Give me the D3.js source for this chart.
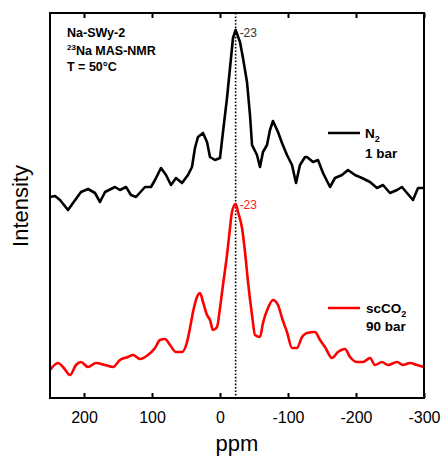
<!DOCTYPE html>
<meta charset="utf-8">
<style>
    body { margin: 0; background: #fff; }
    text { font-family: Arial, "Liberation Sans", sans-serif; }
    .frame { fill: none; stroke: #000; stroke-width: 2; }
    .spec { fill: none; stroke-width: 2.6; stroke-linejoin: round; }
    .axis line { stroke: #000; stroke-width: 2; }
    .axis text { font-size: 16px; fill: #000; }
</style>
<svg width="442" height="460"></svg>
<script src="https://d3js.org/d3.v7.min.js"></script>
<script>

    // chemical shift (ppm) and intensity (arb. units)
    var n2Ppm = [250, 242.6, 235.3, 223.5, 216.2, 204.4, 194.1, 183.8, 176.5, 169.1, 154.4, 147.1, 138.2, 130.9, 123.5,
        110.3, 101.5, 95.6, 86.8, 79.4, 72.1, 64.7, 55.9, 47.1, 41.2, 36.8, 32.4, 25, 19.1, 14.7, 7.4, 0, -4.4, -10.3,
        -14.7, -19.1, -23, -29.4, -33.8, -39.7, -44.1, -47.1, -54.4, -58.8, -63.2, -69.1, -73.5, -77.9, -85.3, -91.2,
        -98.5, -105.9, -111.8, -117.6, -125, -127.9, -136.8, -144.1, -151.5, -161.8, -169.1, -179.4, -188.2, -198.5,
        -208.8, -220.6, -230.9, -239.7, -250, -260.3, -267.6, -275, -283.8, -291.2, -300];
    var n2Int = [201, 202, 198, 188, 195, 206, 209, 205, 196, 206, 211, 208, 211, 203, 201,
        211, 211, 218, 230, 223, 213, 220, 215, 223, 231, 250, 261, 265, 256, 241, 238, 240, 266, 300,
        330, 360, 368, 356, 340, 316, 283, 253, 243, 231, 246, 253, 268, 277, 266, 255,
        243, 233, 215, 233, 241, 241, 236, 238, 225, 211, 220, 223, 228, 223,
        220, 216, 210, 213, 205, 208, 211, 205, 198, 210, 210];

    var co2Ppm = [250, 238.2, 230.9, 220.6, 211.8, 204.4, 194.1, 182.4, 169.1, 157.4, 147.1, 135.3, 127.9, 117.6, 105.9,
        95.6, 88.2, 80.9, 73.5, 64.7, 55.9, 48.5, 44.1, 39.7, 33.8, 29.4, 25, 19.1, 14.7, 10.3, 4.4, 0, -4.4, -10.3,
        -14.7, -17.6, -23, -26.5, -32.4, -36.8, -41.2, -47.1, -51.5, -58.8, -63.2, -70.6, -77.9, -85.3, -91.2, -98.5,
        -105.9, -113.2, -120.6, -125, -127.9, -139.7, -147.1, -154.4, -164.7, -173.5, -183.8, -191.2, -201.5, -210.3,
        -220.6, -227.9, -238.2, -247.1, -260.3, -269.1, -279.4, -289.7, -300];
    var co2Int = [28, 35, 31, 23, 33, 36, 31, 35, 33, 31, 38, 41, 43, 39, 43,
        50, 58, 59, 53, 46, 46, 56, 70, 86, 101, 105, 96, 83, 78, 68, 71, 90, 113, 143,
        170, 186, 194, 186, 170, 146, 116, 83, 63, 61, 75, 90, 98, 93, 80, 66,
        50, 50, 61, 64, 65, 66, 58, 51, 40, 46, 49, 41, 36, 36,
        40, 33, 36, 33, 36, 33, 35, 33, 31];

    var xTicks = [200, 100, 0, -100, -200, -300];
    var peakPpm = -23,
        n2Peak = 368,
        co2Peak = 194;

    var svg = d3.select("svg"),
        margin = { top: 13, right: 18, bottom: 62, left: 50 },
        width = +svg.attr("width") - margin.left - margin.right,
        height = +svg.attr("height") - margin.top - margin.bottom,
        g = svg.append("g").attr("transform", "translate(" + margin.left + "," + margin.top + ")");

    // ppm axis runs right to left
    var x = d3.scaleLinear().domain([250, -300]).range([0, width]);
    var y = d3.scaleLinear().domain([0, 385]).range([height, 0]);

    var line = d3.line()
        .x(function (d) { return x(d[0]); })
        .y(function (d) { return y(d[1]); });

    // the scCO2 trace is much smoother in the original
    var smoothLine = d3.line()
        .curve(d3.curveMonotoneX)
        .x(function (d) { return x(d[0]); })
        .y(function (d) { return y(d[1]); });

    // bottom axis, ticks pointing in
    var bottomAxis = g.append("g")
        .attr("class", "axis")
        .attr("transform", "translate(0," + height + ")")
        .call(d3.axisBottom(x).tickValues(xTicks).tickSizeInner(-5).tickSizeOuter(0)
            .tickPadding(14).tickFormat(function (d) { return String(d); }));
    bottomAxis.select(".domain").remove();

    var topAxis = g.append("g")
        .attr("class", "axis")
        .call(d3.axisTop(x).tickValues(xTicks).tickSizeInner(-5).tickSizeOuter(0).tickFormat(""));
    topAxis.select(".domain").remove();

    // dotted marker at -23 ppm
    g.append("line")
        .attr("x1", x(peakPpm)).attr("x2", x(peakPpm))
        .attr("y1", 0).attr("y2", height)
        .attr("stroke", "#000")
        .attr("stroke-width", 1.6)
        .attr("stroke-dasharray", "1.6,1.8");

    g.append("path")
        .datum(d3.zip(n2Ppm, n2Int))
        .attr("class", "spec")
        .attr("stroke", "#000")
        .attr("d", line);

    g.append("path")
        .datum(d3.zip(co2Ppm, co2Int))
        .attr("class", "spec")
        .attr("stroke", "#ff0000")
        .attr("d", smoothLine);

    g.append("rect")
        .attr("class", "frame")
        .attr("width", width)
        .attr("height", height);

    // peak labels
    g.append("text")
        .attr("x", x(peakPpm) + 4).attr("y", y(n2Peak) + 7)
        .attr("font-size", 12).attr("fill", "#333")
        .text("-23");
    g.append("text")
        .attr("x", x(peakPpm) + 4).attr("y", y(co2Peak) + 5)
        .attr("font-size", 12).attr("fill", "#ff2020")
        .text("-23");

    // sample info
    var info = svg.append("g")
        .attr("font-weight", "bold")
        .attr("font-size", 12.5);
    info.append("text").attr("x", 67).attr("y", 37).text("Na-SWy-2");
    var nmr = info.append("text").attr("x", 67).attr("y", 55);
    nmr.append("tspan").attr("font-size", 8).attr("dy", -5).text("23");
    nmr.append("tspan").attr("dy", 5).text("Na MAS-NMR");
    info.append("text").attr("x", 67).attr("y", 71).text("T = 50°C");

    // legend
    var legend = svg.append("g")
        .attr("font-weight", "bold")
        .attr("font-size", 13.5);

    legend.append("line")
        .attr("x1", 328).attr("x2", 360).attr("y1", 133).attr("y2", 133)
        .attr("stroke", "#000").attr("stroke-width", 2.5);
    var n2 = legend.append("text").attr("x", 365).attr("y", 138);
    n2.append("tspan").text("N");
    n2.append("tspan").attr("font-size", 9).attr("dy", 4).text("2");
    legend.append("text").attr("x", 365).attr("y", 158).text("1 bar");

    legend.append("line")
        .attr("x1", 328).attr("x2", 360).attr("y1", 308).attr("y2", 308)
        .attr("stroke", "#ff0000").attr("stroke-width", 2.5);
    var co2 = legend.append("text").attr("x", 366).attr("y", 313);
    co2.append("tspan").text("scCO");
    co2.append("tspan").attr("font-size", 9).attr("dy", 4).text("2");
    legend.append("text").attr("x", 366).attr("y", 331).text("90 bar");

    // axis titles
    svg.append("text")
        .attr("x", margin.left + width / 2).attr("y", 451)
        .attr("text-anchor", "middle")
        .attr("font-size", 22)
        .text("ppm");

    svg.append("text")
        .attr("transform", "translate(28,206) rotate(-90)")
        .attr("text-anchor", "middle")
        .attr("font-size", 22)
        .text("Intensity");

</script>
